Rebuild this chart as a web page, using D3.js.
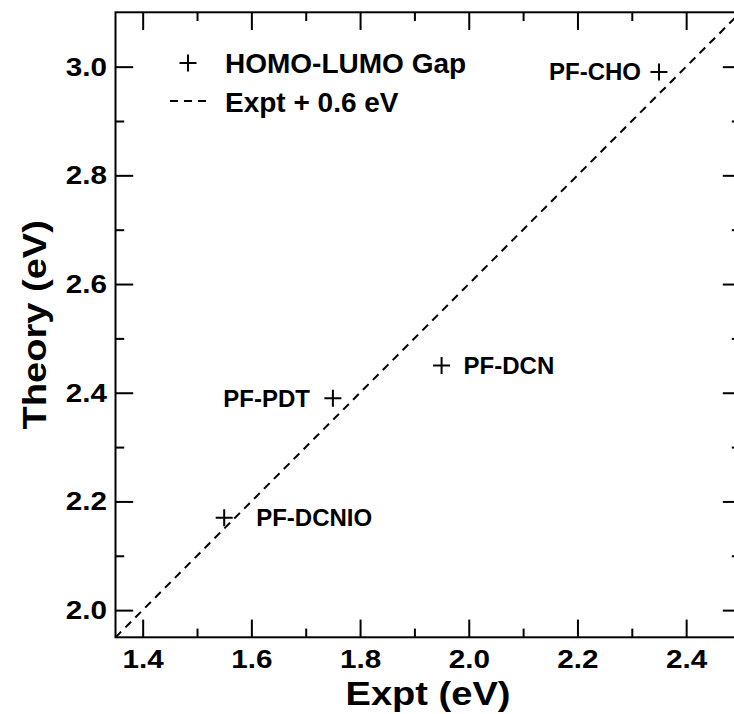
<!DOCTYPE html>
<html>
<head>
<meta charset="utf-8">
<script src="https://cdn.jsdelivr.net/npm/d3@7"></script>
<style>
  body { margin: 0; background: #fff; }
  svg  { display: block; }
</style>
</head>
<body>
<div id="chart"></div>
<script>
// ── Data ─────────────────────────────────────────────────────
const xDomain     = [1.35, 2.5];
const yDomain     = [1.95, 3.1];
const xMajorTicks = [1.4, 1.6, 1.8, 2.0, 2.2, 2.4];
const xMinorTicks = [1.5, 1.7, 1.9, 2.1, 2.3];
const yMajorTicks = [2.0, 2.2, 2.4, 2.6, 2.8, 3.0];
const yMinorTicks = [2.1, 2.3, 2.5, 2.7, 2.9];

const molecules = ['PF-CHO', 'PF-DCN', 'PF-PDT', 'PF-DCNIO'];
const exptGap   = [2.35, 1.95, 1.75, 1.55];
const theoryGap = [2.99, 2.45, 2.39, 2.17];
const shift     = 0.6;   // Expt + 0.6 eV reference line

// label placement beside each marker (px)
const LABEL_LAYOUT = {
  'PF-CHO':   { dx: -18, anchor: 'end' },
  'PF-DCN':   { dx: 22,  anchor: 'start' },
  'PF-PDT':   { dx: -23, anchor: 'end' },
  'PF-DCNIO': { dx: 32,  anchor: 'start' },
};

const FONT    = '"Liberation Sans", Arial, Helvetica, sans-serif';
const STRETCH = 'scale(1.12,1)';   // the axis lettering is a bit wider than Arial

// ── Layout ───────────────────────────────────────────────────
const width  = 734;
const height = 714;
const margin = { top: 12.3, left: 115.5 };
const innerW = 625;
const innerH = 625;
const majorLen = 17.7;
const minorLen = 8.7;

const svg = d3.select('#chart').append('svg')
  .attr('width', width)
  .attr('height', height);

const g = svg.append('g')
  .attr('transform', `translate(${margin.left},${margin.top})`);

const x = d3.scaleLinear().domain(xDomain).range([0, innerW]);
const y = d3.scaleLinear().domain(yDomain).range([innerH, 0]);

// ── Axes (inward ticks, mirrored) ────────────────────────────
function styleAxis(ax) {
  ax.select('.domain').remove();
  ax.selectAll('line').attr('stroke', '#000').attr('stroke-width', 2);
  ax.selectAll('text')
    .attr('fill', '#000')
    .attr('font-family', FONT)
    .attr('font-weight', 'bold')
    .attr('font-size', 26.5)
    .attr('transform', STRETCH);
}

g.append('g')
  .attr('transform', `translate(0,${innerH})`)
  .call(d3.axisBottom(x).tickValues(xMajorTicks).tickSize(-majorLen).tickPadding(12).tickFormat(d3.format('.1f')))
  .call(styleAxis);
g.append('g')
  .attr('transform', `translate(0,${innerH})`)
  .call(d3.axisBottom(x).tickValues(xMinorTicks).tickSize(-minorLen).tickFormat(''))
  .call(styleAxis);
g.append('g')
  .call(d3.axisTop(x).tickValues(xMajorTicks).tickSize(-majorLen).tickFormat(''))
  .call(styleAxis);
g.append('g')
  .call(d3.axisTop(x).tickValues(xMinorTicks).tickSize(-minorLen).tickFormat(''))
  .call(styleAxis);

g.append('g')
  .call(d3.axisLeft(y).tickValues(yMajorTicks).tickSize(-majorLen).tickPadding(7.6).tickFormat(d3.format('.1f')))
  .call(styleAxis);
g.append('g')
  .call(d3.axisLeft(y).tickValues(yMinorTicks).tickSize(-minorLen).tickFormat(''))
  .call(styleAxis);
g.append('g')
  .attr('transform', `translate(${innerW},0)`)
  .call(d3.axisRight(y).tickValues(yMajorTicks).tickSize(-majorLen).tickFormat(''))
  .call(styleAxis);
g.append('g')
  .attr('transform', `translate(${innerW},0)`)
  .call(d3.axisRight(y).tickValues(yMinorTicks).tickSize(-minorLen).tickFormat(''))
  .call(styleAxis);

// frame
g.append('rect')
  .attr('width', innerW)
  .attr('height', innerH)
  .attr('fill', 'none')
  .attr('stroke', '#000')
  .attr('stroke-width', 2);

// axis titles
svg.append('text')
  .attr('transform', `translate(${margin.left + innerW / 2},705) ${STRETCH}`)
  .attr('text-anchor', 'middle')
  .attr('font-family', FONT).attr('font-weight', 'bold').attr('font-size', 34)
  .text('Expt (eV)');

svg.append('text')
  .attr('transform', `translate(46,${margin.top + innerH / 2}) rotate(-90) ${STRETCH}`)
  .attr('text-anchor', 'middle')
  .attr('font-family', FONT).attr('font-weight', 'bold').attr('font-size', 34)
  .text('Theory (eV)');

// ── Reference line ───────────────────────────────────────────
svg.append('defs').append('clipPath').attr('id', 'plot-clip')
  .append('rect').attr('width', innerW).attr('height', innerH);

g.append('line')
  .attr('clip-path', 'url(#plot-clip)')
  .attr('x1', x(xDomain[0])).attr('y1', y(xDomain[0] + shift))
  .attr('x2', x(xDomain[1])).attr('y2', y(xDomain[1] + shift))
  .attr('stroke', '#000')
  .attr('stroke-width', 2)
  .attr('stroke-dasharray', '8,6');

// ── Points ───────────────────────────────────────────────────
const points = molecules.map((name, i) => ({ name, ex: exptGap[i], th: theoryGap[i] }));
const arm = 8.5;

function plus(sel, cx, cy) {
  sel.append('path')
    .attr('d', `M${cx - arm},${cy}H${cx + arm}M${cx},${cy - arm}V${cy + arm}`)
    .attr('stroke', '#000')
    .attr('stroke-width', 2)
    .attr('fill', 'none');
}

points.forEach(p => {
  const cx = x(p.ex), cy = y(p.th);
  plus(g, cx, cy);
  const lay = LABEL_LAYOUT[p.name];
  g.append('text')
    .attr('x', cx + lay.dx)
    .attr('y', cy)
    .attr('dy', '0.35em')
    .attr('text-anchor', lay.anchor)
    .attr('font-family', FONT).attr('font-weight', 'bold').attr('font-size', 24)
    .text(p.name);
});

// ── Legend ───────────────────────────────────────────────────
plus(svg, 188, 63);
svg.append('text')
  .attr('x', 225).attr('y', 73)
  .attr('font-family', FONT).attr('font-weight', 'bold').attr('font-size', 28)
  .text('HOMO-LUMO Gap');

svg.append('line')
  .attr('x1', 170).attr('x2', 207)
  .attr('y1', 101).attr('y2', 101)
  .attr('stroke', '#000').attr('stroke-width', 2)
  .attr('stroke-dasharray', '8,6');
svg.append('text')
  .attr('x', 225).attr('y', 112)
  .attr('font-family', FONT).attr('font-weight', 'bold').attr('font-size', 28)
  .text('Expt + 0.6 eV');
</script>
</body>
</html>
